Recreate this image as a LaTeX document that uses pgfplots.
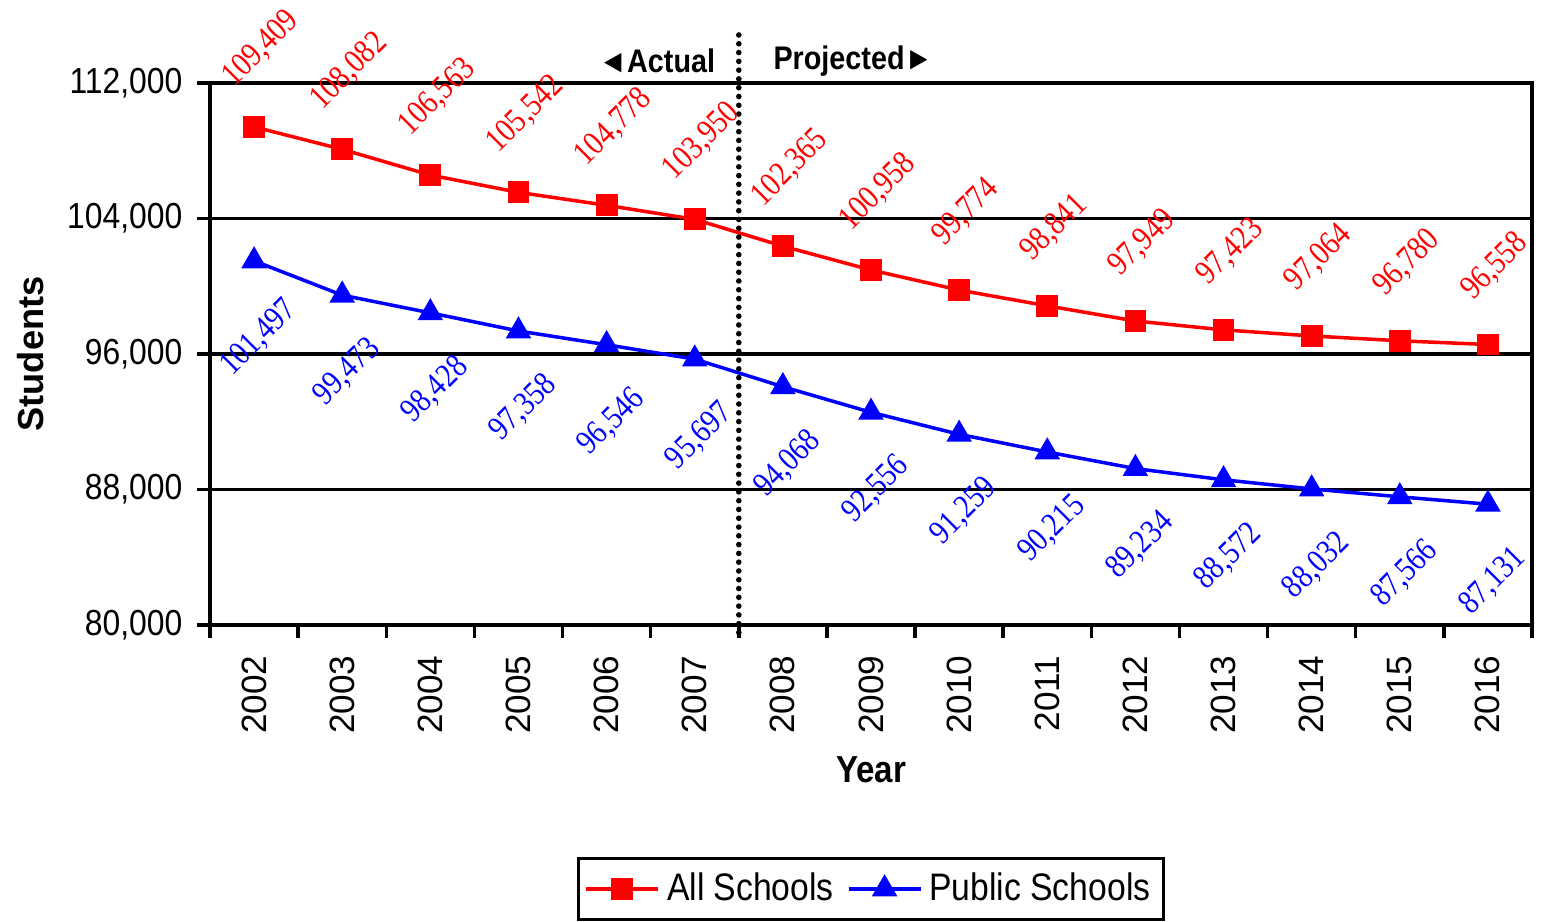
\documentclass[border=0pt]{standalone}
\usepackage{fontspec}
\setmainfont{Liberation Sans}[FakeStretch=0.88]
\newfontfamily\rotfont{Liberation Sans}
\newfontfamily\serif{Liberation Serif}[FakeStretch=0.85]
\usepackage{pgfplots}
\usepackage{pgfplotstable}
\pgfplotsset{compat=1.18}

\pgfplotstableread{
year all public
2002 109409 101497
2003 108082 99473
2004 106563 98428
2005 105542 97358
2006 104778 96546
2007 103950 95697
2008 102365 94068
2009 100958 92556
2010 99774 91259
2011 98841 90215
2012 97949 89234
2013 97423 88572
2014 97064 88032
2015 96780 87566
2016 96558 87131
}\schooldata

\begin{document}
\begin{tikzpicture}
\begin{axis}[
  name=ax,
  scale only axis,
  width=13.22cm, height=5.42cm,
  clip=false,
  xmin=2001.5, xmax=2016.5,
  ymin=80000, ymax=112000,
  xtick={2002,...,2016},
  minor xtick={2001.5,2002.5,...,2016.5},
  ytick={80000,88000,...,112000},
  minor ytick={80000,88000,...,112000},
  major tick length=0pt, minor tick length=1.3mm,
  tick align=outside, tick pos=left,
  tick style={black, line width=1pt},
  axis line style={black, line width=1pt},
  ymajorgrids,
  major grid style={black, line width=1pt},
  scaled y ticks=false,
  /pgf/number format/assume math mode=true,
  x tick label style={font=\rotfont\fontsize{10}{12}\selectfont, rotate=90, anchor=east, inner sep=0pt, /pgf/number format/1000 sep={}},
  xticklabel shift=3mm,
  y tick label style={font=\fontsize{10.3}{12}\selectfont, inner sep=0pt, /pgf/number format/.cd, fixed, 1000 sep={,}},
  yticklabel shift=2.7mm,
  xlabel={Year}, ylabel={Students},
  every axis x label/.style={at={(axis description cs:0.5,-0.2675)}, anchor=center, font=\bfseries\fontsize{10.7}{12}\selectfont},
  every axis y label/.style={at={(axis description cs:-0.136,0.5)}, rotate=90, anchor=center, font=\rotfont\bfseries\fontsize{10.3}{12}\selectfont},
  legend style={at={(axis description cs:0.5,-0.487)}, anchor=center, legend columns=2, draw=black, line width=1pt,
    font=\fontsize{10.9}{12}\selectfont, inner xsep=0.6mm,
    /tikz/every even column/.append style={column sep=0.6mm}},
  legend image code/.code={\draw[mark repeat=2,mark phase=2,#1] plot coordinates {(0cm,0cm) (0.36cm,0cm) (0.72cm,0cm)};},
]
\addplot[red, line width=1pt, mark=square*, mark size=2.6pt, mark options={solid},
  nodes near coords={\pgfmathprintnumber[fixed,precision=0,1000 sep={,}]{\pgfplotspointmeta}},
  every node near coord/.style={text=red, font=\serif\fontsize{9.6}{10}\selectfont, anchor=center, xshift=0.7mm, yshift=7.8mm, rotate=45}]
  table[x=year, y=all] {\schooldata};
\addlegendentry{All Schools}
\addplot[blue, line width=1pt, mark=triangle*, mark size=3.2pt, mark options={solid},
  nodes near coords={\pgfmathprintnumber[fixed,precision=0,1000 sep={,}]{\pgfplotspointmeta}},
  every node near coord/.style={text=blue, font=\serif\fontsize{9.6}{10}\selectfont, anchor=center, xshift=0.5mm, yshift=-7.7mm, rotate=45}]
  table[x=year, y=public] {\schooldata};
\addlegendentry{Public Schools}
\draw[black, line width=1.6pt, line cap=round, dash pattern=on 0pt off 2.5pt]
  (axis cs:2007.5,114834) -- (axis cs:2007.5,79114);
\node[anchor=east, xshift=-2.3mm, inner sep=0pt, font=\bfseries\fontsize{9.3}{10}\selectfont]
  at (axis cs:2007.5,113300) {◄Actual};
\node[anchor=west, xshift=3.4mm, inner sep=0pt, font=\bfseries\fontsize{9.3}{10}\selectfont]
  at (axis cs:2007.5,113300) {Projected►};
\end{axis}
\pgfresetboundingbox
\path (ax.south west) ++(-2.10cm,-2.97cm) rectangle ([shift={(0.10cm,0.83cm)}]ax.north east);
\end{tikzpicture}
\end{document}
